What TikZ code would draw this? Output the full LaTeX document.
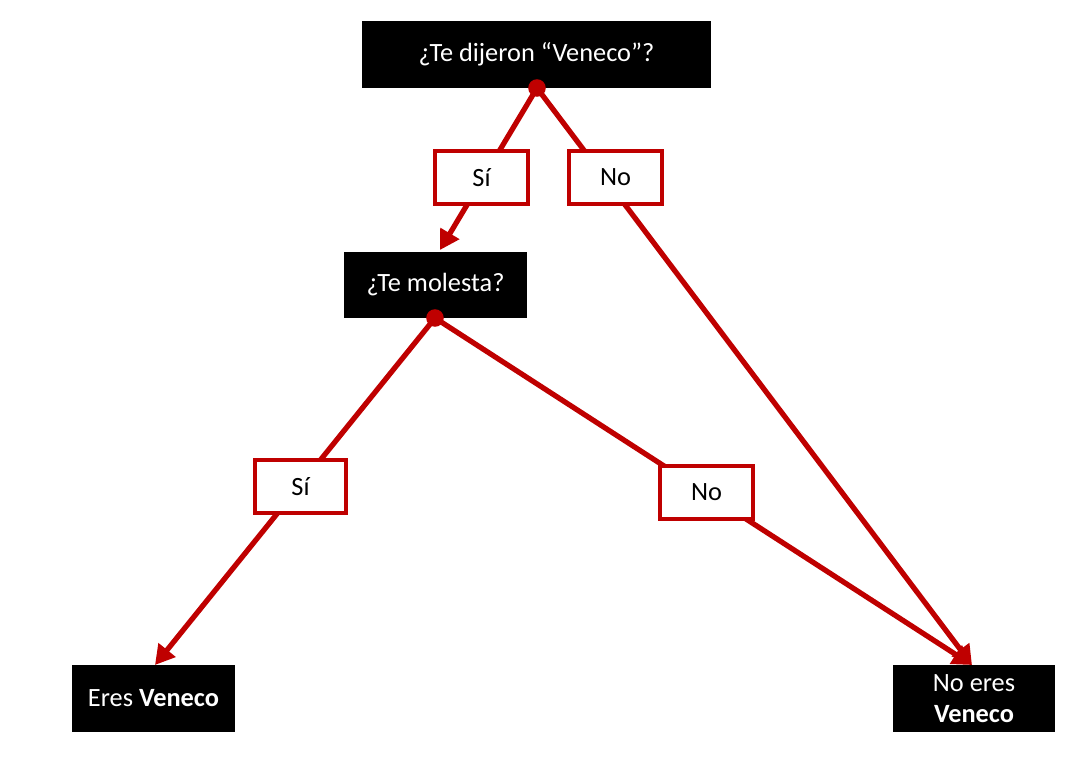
\documentclass[tikz,border=0pt]{standalone}
\usepackage{fontspec}
\setmainfont{Carlito}
\usetikzlibrary{arrows.meta}
\begin{document}
\begin{tikzpicture}[x=0.02cm,y=-0.02cm,
  q/.style={fill=black,text=white,align=center,font=\fontsize{15}{18}\selectfont,inner sep=0pt},
  lab/.style={draw=red!75!black,line width=2pt,fill=white,minimum width=88\pgflinewidth,font=\fontsize{15}{18}\selectfont,inner sep=0pt},
  con/.style={draw=red!75!black,line width=3pt},
  arr/.style={con,-{Triangle[length=11pt,width=12pt]}},
  dot/.style={circle,fill=red!75!black,inner sep=0pt,minimum size=10pt}]
\useasboundingbox (0,0) rectangle (1084,766);
\node[q,minimum width=349*0.02cm,minimum height=67*0.02cm] (top) at (536.5,54.5) {¿Te dijeron “Veneco”?};
\node[q,minimum width=183*0.02cm,minimum height=66*0.02cm] (mol) at (435.5,285) {¿Te molesta?};
\node[q,minimum width=163*0.02cm,minimum height=67*0.02cm] (eres) at (153.5,698.5) {Eres \textbf{Veneco}};
\node[q,minimum width=162*0.02cm,minimum height=67*0.02cm] (noeres) at (974,698.5) {No eres\\\textbf{Veneco}};
\coordinate (d1) at (537,88);
\coordinate (d2) at (435,318);
\coordinate (e1) at (440,250);
\coordinate (e2) at (155,665);
\coordinate (e3) at (972,665);
\draw[arr] (d1) -- (e1);
\draw[arr] (d1) -- (e3);
\draw[arr] (d2) -- (e2);
\draw[arr] (d2) -- (e3);
\node[dot] (p1) at (d1) {};
\node[dot] (p2) at (d2) {};
\node[lab,minimum width=93*0.02cm,minimum height=53*0.02cm] (s1) at (481.5,177.5) {Sí};
\node[lab,minimum width=93*0.02cm,minimum height=53*0.02cm] (n1) at (615.5,177.5) {No};
\node[lab,minimum width=91*0.02cm,minimum height=53*0.02cm] (s2) at (300.5,486.5) {Sí};
\node[lab,minimum width=93*0.02cm,minimum height=53*0.02cm] (n2) at (706.5,492.5) {No};
\end{tikzpicture}
\end{document}
